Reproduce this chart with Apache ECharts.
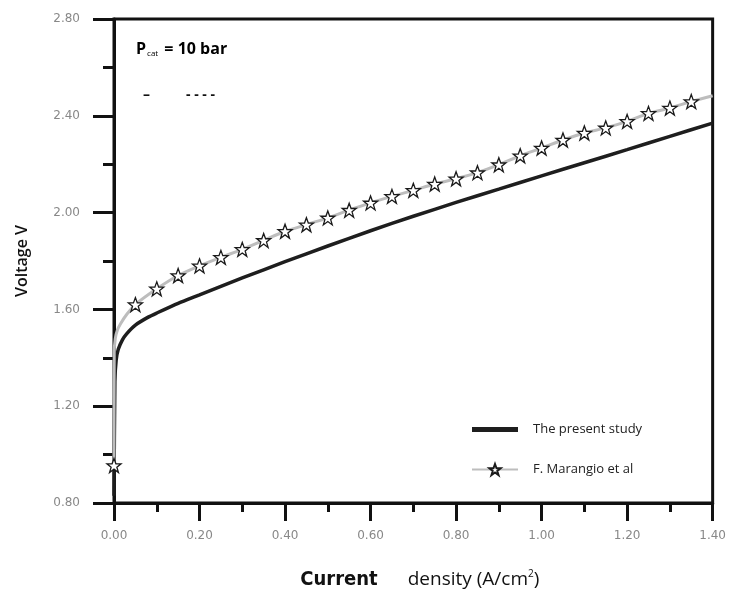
<!DOCTYPE html>
<html>
<head>
<meta charset="utf-8">
<script src="https://cdn.jsdelivr.net/npm/echarts@6/dist/echarts.min.js"></script>
<style>
  html, body { margin: 0; padding: 0; background: #fff; }
  #main { width: 729px; height: 595px; }
</style>
</head>
<body>
<div id="main"></div>
<script>
// tick labels
var xTicks = [0, 0.2, 0.4, 0.6, 0.8, 1.0, 1.2, 1.4]
var yTicks = [0.8, 1.2, 1.6, 2.0, 2.4, 2.8]

// The present study (black line)
var studyX = [0, 0.002, 0.005, 0.01, 0.02, 0.03, 0.05, 0.08, 0.1, 0.15, 0.2, 0.3, 0.4, 0.5, 0.6, 0.7, 0.8, 0.9, 1.0, 1.1, 1.2, 1.3, 1.4]
var studyY = [0.83, 1.30, 1.39, 1.435, 1.475, 1.50, 1.535, 1.568, 1.585, 1.625, 1.66, 1.73, 1.797, 1.862, 1.925, 1.985, 2.042, 2.097, 2.152, 2.206, 2.26, 2.315, 2.37]

// F. Marangio et al - star markers
var markX = [0, 0.05, 0.10, 0.15, 0.20, 0.25, 0.30, 0.35, 0.40, 0.45, 0.50, 0.55, 0.60, 0.65, 0.70, 0.75, 0.80, 0.85, 0.90, 0.95, 1.00, 1.05, 1.10, 1.15, 1.20, 1.25, 1.30, 1.35]
var markY = [0.955, 1.62, 1.685, 1.74, 1.78, 1.815, 1.848, 1.885, 1.923, 1.950, 1.978, 2.010, 2.040, 2.067, 2.092, 2.118, 2.140, 2.165, 2.198, 2.235, 2.267, 2.300, 2.329, 2.350, 2.377, 2.41, 2.432, 2.459]
// F. Marangio et al - curve points between markers (no marker)
var curveX = [0.0005, 0.003, 0.008, 0.015, 0.03, 1.40]
var curveY = [1.42, 1.48, 1.515, 1.54, 1.58, 2.483]

var starPath = 'path://M12,1 L15,9 L23,9 L16.5,14 L19,22 L12,17 L5,22 L7.5,14 L1,9 L9,9 Z'

var studyData = studyX.map(function (x, i) { return [x, studyY[i]] })
var marangioData = []
markX.forEach(function (x, i) { marangioData.push({ value: [x, markY[i]] }) })
curveX.forEach(function (x, i) { marangioData.push({ value: [x, curveY[i]], symbol: 'none' }) })
marangioData.sort(function (a, b) { return a.value[0] - b.value[0] })

var myChart = echarts.init(document.getElementById('main'))

var option = {
  backgroundColor: '#fff',
  animation: false,
  grid: {
    left: 114,
    right: 16,
    top: 19,
    bottom: 91,
    show: true,
    borderColor: '#111',
    borderWidth: 3
  },
  legend: {
    orient: 'vertical',
    left: 466,
    top: 418,
    itemWidth: 46,
    itemHeight: 14,
    itemGap: 27,
    textStyle: { fontFamily: 'Open Sans', fontSize: 13, color: '#222', padding: [0, 0, 0, 10] },
    data: [
      { name: 'The present study', icon: 'path://M0,0L46,0L46,5L0,5Z' },
      { name: 'F. Marangio et al' }
    ]
  },
  xAxis: {
    type: 'value',
    min: 0,
    max: 1.4,
    interval: 0.2,
    name: '{a|Current}{g|}{b|density (A/cm}{s|2}{b|)}',
    nameLocation: 'middle',
    nameGap: 66,
    nameTextStyle: {
      padding: [0, 0, 0, 13],
      rich: {
        a: { fontFamily: "'DejaVu Sans Condensed', 'DejaVu Sans'", fontWeight: 'bold', fontSize: 20, color: '#111' },
        g: { width: 30 },
        b: { fontFamily: 'Open Sans', fontSize: 19, color: '#111' },
        s: { fontFamily: 'Open Sans', fontSize: 10, color: '#111', verticalAlign: 'top', padding: [0, 0, 12, 0] }
      }
    },
    axisLine: { onZero: false, lineStyle: { color: '#111', width: 3 } },
    axisTick: { inside: false, length: 18, lineStyle: { color: '#111', width: 3 } },
    minorTick: { show: true, splitNumber: 2, length: 9, lineStyle: { color: '#111', width: 3 } },
    splitLine: { show: false },
    axisLabel: {
      margin: 27,
      fontFamily: 'DejaVu Sans',
      fontSize: 12,
      color: '#888',
      formatter: function (v) { return v.toFixed(2) }
    }
  },
  yAxis: {
    type: 'value',
    min: 0.8,
    max: 2.8,
    interval: 0.4,
    name: 'Voltage V',
    nameLocation: 'middle',
    nameGap: 84,
    nameTextStyle: { fontFamily: 'Open Sans', fontWeight: 600, fontSize: 16, color: '#111' },
    axisLine: { onZero: false, lineStyle: { color: '#111', width: 3 } },
    axisTick: { inside: false, length: 21, lineStyle: { color: '#111', width: 3 } },
    minorTick: { show: true, splitNumber: 2, length: 11, lineStyle: { color: '#111', width: 3 } },
    splitLine: { show: false },
    axisLabel: {
      margin: 34,
      fontFamily: 'DejaVu Sans',
      fontSize: 12,
      color: '#888',
      formatter: function (v) { return v.toFixed(2) }
    }
  },
  graphic: [
    {
      type: 'text',
      left: 136,
      top: 41,
      style: {
        text: '{p|P}{s|cat}{p| = 10 bar}',
        rich: {
          p: { fontFamily: 'Open Sans', fontWeight: 'bold', fontSize: 16, color: '#111' },
          s: { fontFamily: 'Open Sans', fontSize: 8, color: '#333', padding: [9, 2, 0, 1] }
        }
      }
    },
    {
      type: 'text',
      left: 143,
      top: 88,
      style: { text: '–', fontFamily: 'Open Sans', fontWeight: 'bold', fontSize: 14, fill: '#111' }
    },
    {
      type: 'text',
      left: 186,
      top: 88,
      style: { text: '- - - -', fontFamily: 'Open Sans', fontWeight: 'bold', fontSize: 14, fill: '#111' }
    }
  ],
  series: [
    {
      name: 'The present study',
      type: 'line',
      data: studyData,
      symbol: 'none',
      smooth: 0.2,
      color: '#1e1e1e',
      lineStyle: { color: '#1e1e1e', width: 3.5 },
      z: 2
    },
    {
      name: 'F. Marangio et al',
      type: 'line',
      data: marangioData,
      symbol: starPath,
      symbolSize: 14,
      smooth: 0.2,
      color: '#bdbdbd',
      itemStyle: { color: '#fff', borderColor: '#1a1a1a', borderWidth: 1.3 },
      lineStyle: { color: '#bdbdbd', width: 3 },
      z: 3
    }
  ]
}

myChart.setOption(option)
</script>
</body>
</html>
